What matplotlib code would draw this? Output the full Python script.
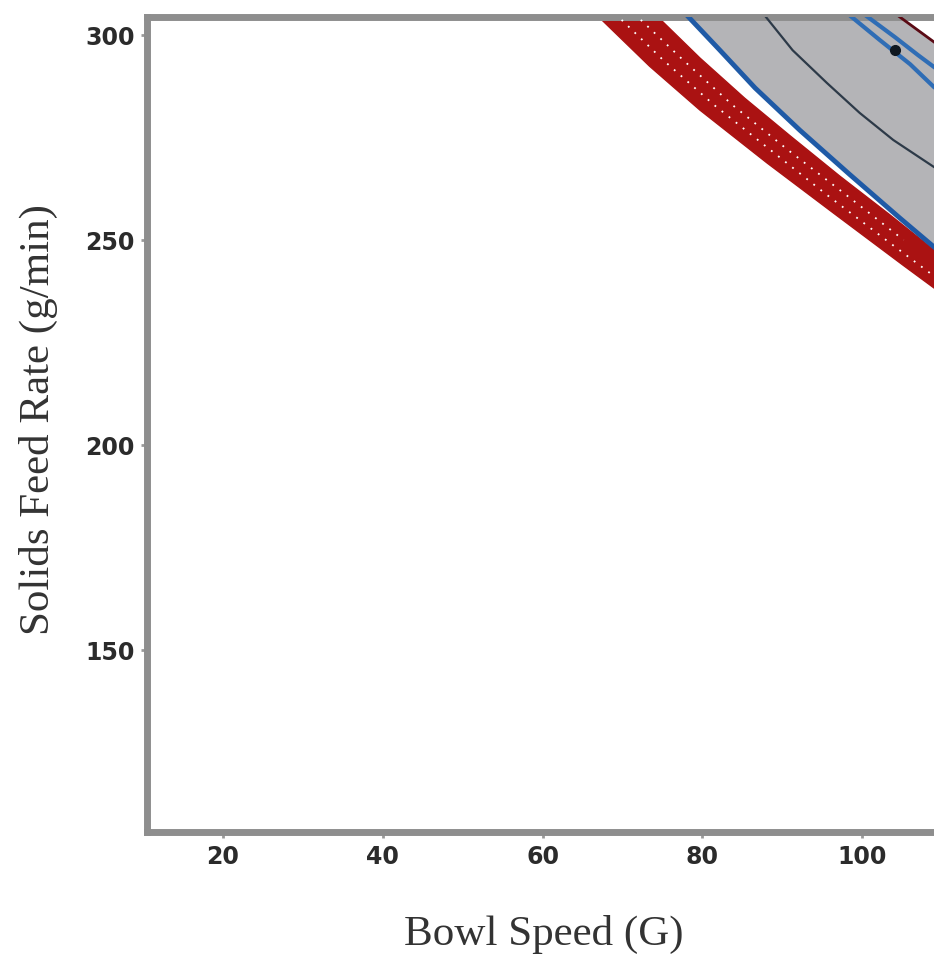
import matplotlib
matplotlib.use("Agg")
import matplotlib.pyplot as plt

# 坐标轴刻度
x_ticks = [20, 40, 60, 80, 100]
y_ticks = [150, 200, 250, 300]

# 红色区域（下边界 / 上边界）
red_low_x = [66.2, 73.4, 79.7, 88.1, 96.4, 105.1, 109.0, 112.2]
red_low_y = [306.0, 292.4, 281.7, 268.8, 256.6, 243.9, 238.3, 233.9]
red_up_x = [73.6, 79.7, 85.3, 91.0, 97.2, 103.5, 109.0, 112.2]
red_up_y = [306.0, 294.4, 284.6, 275.4, 265.6, 256.1, 247.6, 242.7]

# 红色区域内的白色点线
dot1_x = [69.9, 75.1, 81.5, 88.5, 95.6, 103.0, 109.0]
dot1_y = [303.7, 293.9, 282.9, 272.0, 261.0, 250.0, 241.2]
dot2_x = [72.3, 77.6, 83.8, 90.7, 98.0, 105.2]
dot2_y = [303.7, 293.9, 282.9, 272.0, 261.0, 250.0]

# 蓝色边界线
blue_x = [77.5, 82.2, 86.6, 92.2, 98.5, 104.7, 109.0, 112.2]
blue_y = [306.0, 296.3, 287.1, 276.8, 265.9, 255.4, 248.3, 243.2]

# 灰色区域内的等高线
cont_x = [87.3, 91.3, 95.6, 99.7, 103.9, 109.0, 112.2]
cont_y = [306.0, 296.3, 288.3, 281.0, 274.4, 267.8, 263.9]

# 蓝色双线
band_a_x = [97.7, 102.2, 106.0, 109.0, 112.2]
band_a_y = [306.0, 298.8, 292.9, 287.3, 282.9]
band_b_x = [99.6, 104.1, 107.0, 109.0, 112.2]
band_b_y = [306.0, 299.5, 295.1, 292.2, 287.8]

# 最优点
opt_x = [104.1]
opt_y = [296.3]

# 右上角暗红线
dred_x = [103.6, 109.0, 112.2]
dred_y = [306.0, 298.3, 293.9]

fig = plt.figure(figsize=(9.34, 9.61), dpi=100)
ax = fig.add_axes([0.1574, 0.1342, 0.8683, 0.8481])
ax.set_xlim(10.5, 112)
ax.set_ylim(105.6, 304.4)

# 灰色设计空间
gray_x = blue_x + dred_x[::-1]
gray_y = blue_y + dred_y[::-1]
ax.fill(gray_x, gray_y, color='#b4b4b7', zorder=1)

# 红色带
ax.fill(red_low_x + red_up_x[::-1], red_low_y + red_up_y[::-1],
        color='#aa1212', zorder=2)
ax.plot(dot1_x, dot1_y, color='white', lw=1.3, ls=(0, (1, 4)), zorder=3)
ax.plot(dot2_x, dot2_y, color='white', lw=1.3, ls=(0, (1, 4)), zorder=3)

ax.plot(blue_x, blue_y, color='#1f5aa6', lw=3.5, zorder=4)
ax.plot(cont_x, cont_y, color='#2d3a48', lw=1.6, zorder=4)
ax.plot(band_a_x, band_a_y, color='#2f6db5', lw=3, zorder=4)
ax.plot(band_b_x, band_b_y, color='#2f6db5', lw=3, zorder=4)
ax.plot(dred_x, dred_y, color='#5a0a14', lw=2, zorder=4)
ax.plot(opt_x, opt_y, 'o', color='#101820', ms=7, zorder=5)

# 坐标轴样式
for side in ['left', 'bottom', 'top', 'right']:
    ax.spines[side].set_color('#8e8e8e')
    ax.spines[side].set_linewidth(5)

ax.set_xticks(x_ticks)
ax.set_yticks(y_ticks)
ax.tick_params(axis='both', direction='out', length=4, width=2,
               color='#9a9a9a', labelsize=17, labelcolor='#2b2b2b', pad=5)
for lab in ax.get_xticklabels() + ax.get_yticklabels():
    lab.set_fontweight('bold')
    lab.set_family('DejaVu Sans')

ax.set_xlabel('Bowl Speed (G)', family='Liberation Serif', fontsize=31,
              color='#333333')
ax.set_ylabel('Solids Feed Rate (g/min)', family='Liberation Serif',
              fontsize=31, color='#333333')
ax.xaxis.label.set_va('center')
ax.yaxis.label.set_va('center')
ax.xaxis.set_label_coords(0.4895, -0.126)
ax.yaxis.set_label_coords(-0.1344, 0.5055)

fig.savefig('out.png', dpi=100)
